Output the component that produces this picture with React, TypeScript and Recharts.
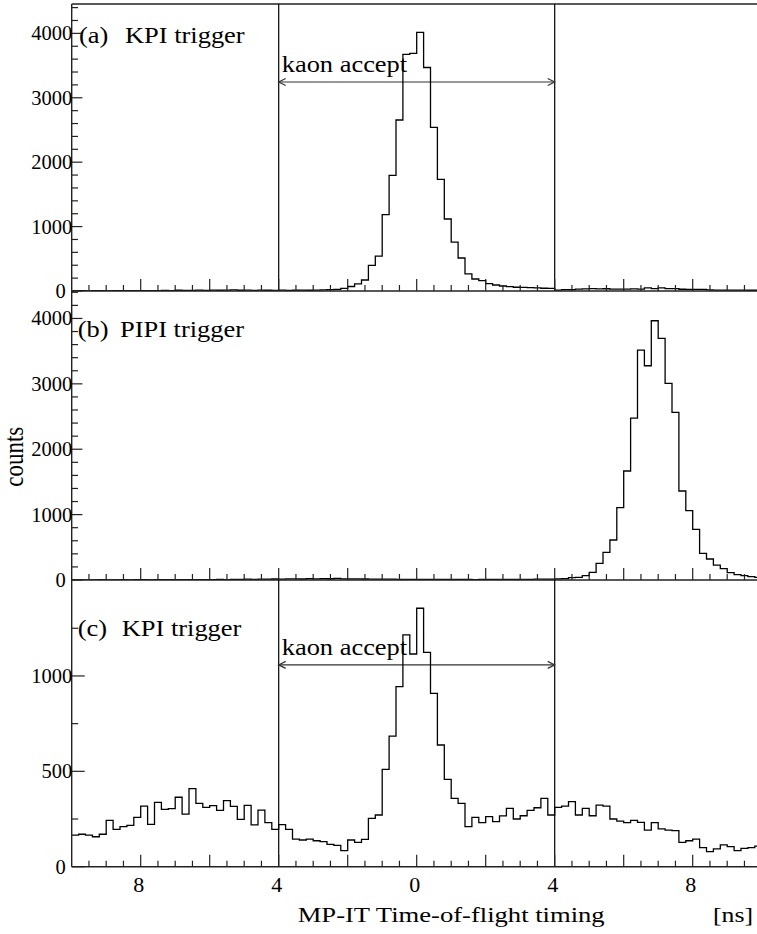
import React from 'react';
import { LineChart, Line, XAxis, YAxis, ReferenceLine } from 'recharts';

// Histogram binning: 100 bins of 0.2 ns from -10 ns
const BIN_START = -10;
const BIN_WIDTH = 0.2;

// (a) KPI trigger counts per bin
const kpiTriggerA = [
  3, 4, 3, 5, 4, 3, 5, 4, 6, 5,
  6, 5, 7, 8, 6, 12, 10, 9, 14, 11,
  15, 12, 13, 16, 12, 14, 11, 15, 12, 10,
  13, 11, 12, 14, 12, 15, 18, 22, 26, 40,
  70, 112, 171, 398, 540, 1185, 1796, 2655, 3675, 3690,
  4017, 3470, 2540, 1734, 1118, 758, 512, 266, 186, 160,
  114, 93, 78, 67, 58, 56, 52, 47, 43, 40,
  15, 20, 22, 30, 34, 36, 33, 35, 30, 28,
  30, 32, 30, 47, 36, 50, 38, 36, 27, 26,
  25, 24, 16, 15, 14, 15, 13, 14, 12, 12,
];

// (b) PIPI trigger counts per bin
const pipiTriggerB = [
  2, 3, 2, 3, 4, 3, 2, 4, 3, 5,
  4, 3, 5, 4, 6, 5, 4, 6, 5, 7,
  6, 8, 7, 9, 10, 12, 11, 14, 13, 15,
  12, 16, 18, 15, 20, 17, 22, 19, 24, 18,
  18, 16, 15, 14, 13, 12, 12, 11, 10, 10,
  10, 9, 9, 8, 8, 9, 8, 8, 7, 8,
  8, 9, 8, 9, 10, 10, 11, 12, 13, 14,
  16, 20, 36, 41, 66, 117, 255, 423, 612, 1106,
  1667, 2477, 3517, 3277, 3965, 3695, 3007, 2564, 1361, 1060,
  775, 408, 321, 229, 173, 112, 82, 66, 51, 41,
];

// (c) KPI trigger counts per bin
const kpiTriggerC = [
  166, 170, 166, 157, 170, 243, 196, 210, 217, 259,
  318, 222, 337, 301, 304, 364, 276, 409, 332, 311,
  320, 295, 346, 316, 248, 322, 219, 297, 231, 196,
  221, 196, 145, 140, 145, 136, 131, 117, 112, 84,
  140, 128, 143, 253, 271, 510, 685, 944, 1215, 1115,
  1355, 1124, 909, 638, 458, 358, 332, 210, 259, 231,
  262, 236, 266, 306, 250, 267, 295, 309, 358, 271,
  311, 318, 341, 271, 306, 267, 323, 318, 250, 239,
  231, 243, 232, 192, 231, 198, 192, 189, 128, 136,
  145, 100, 79, 93, 114, 105, 84, 96, 100, 108,
];

const xLabelTicks = [-8, -4, 0, 4, 8];
const xMinorTicks = Array.from({ length: 39 }, (_, i) => -9.5 + i * 0.5);
const yTicksAB = Array.from({ length: 23 }, (_, i) => i * 200);
const yTicksC = [0, 250, 500, 750, 1000, 1250];
const kaonWindow = [-4, 4];

const FONT = '"Liberation Serif", "Times New Roman", serif';
const AXIS_COLOR = '#222';

const CHART_W = 780;
const Y_AXIS_W = 60;
const PLOT_LEFT = 71.7;
const PLOT_RIGHT_MARGIN = CHART_W - 761.7;

function toSteps(values: number[]) {
  const pts = values.map((v, i) => ({ x: BIN_START + i * BIN_WIDTH, v }));
  pts.push({ x: BIN_START + values.length * BIN_WIDTH, v: values[values.length - 1] });
  return pts;
}

function SText(props: {
  x: number; y: number; size: number; sx?: number; anchor?: string; children: any;
}) {
  const { x, y, size, sx = 1, anchor = 'start', children } = props;
  return (
    <g transform={`translate(${x},${y})`}>
      <g transform={`scale(${sx},1)`}>
        <text x={0} y={0} fontSize={size} fontFamily={FONT} fill="#000" textAnchor={anchor as any}>
          {children}
        </text>
      </g>
    </g>
  );
}

const makeYTick = (major: number, majorLen: number, minorLen: number) => (props: any) => {
  const { x, y, payload } = props;
  const v = payload.value;
  const isMajor = v % major === 0;
  const len = isMajor ? majorLen : minorLen;
  return (
    <g>
      <line x1={x} y1={y} x2={x + len} y2={y} stroke={AXIS_COLOR} strokeWidth={1.2} />
      {isMajor && (
        <SText x={v === 0 ? x - 6 : x + 0.5} y={y + 7} size={20.5} sx={1} anchor="end">
          {v}
        </SText>
      )}
    </g>
  );
};

const makeXTick = (showLabels: boolean) => (props: any) => {
  const { x, y, payload } = props;
  const v = payload.value;
  const isMajor = Math.abs(v % 2) < 1e-6;
  const len = isMajor ? 12 : 6;
  const label = showLabels && xLabelTicks.includes(v);
  return (
    <g>
      <line x1={x} y1={y} x2={x} y2={y - len} stroke={AXIS_COLOR} strokeWidth={1.2} />
      {label && (
        <SText x={x - 2} y={y + 25} size={20} sx={1.1} anchor="middle">
          {Math.abs(v)}
        </SText>
      )}
    </g>
  );
};

const arrowShape = (props: any) => {
  const { x1, y1, x2, y2 } = props;
  const h = 7;
  const w = 3.5;
  return (
    <g>
      <line x1={x1} y1={y1} x2={x2} y2={y2} stroke="#333" strokeWidth={1.2} />
      <polyline points={`${x1 + h},${y1 - w} ${x1},${y1} ${x1 + h},${y1 + w}`} fill="none" stroke="#333" strokeWidth={1.2} />
      <polyline points={`${x2 - h},${y2 - w} ${x2},${y2} ${x2 - h},${y2 + w}`} fill="none" stroke="#333" strokeWidth={1.2} />
      <SText x={x1 + 3} y={y1 - 10.3} size={23} sx={1.15}>kaon accept</SText>
    </g>
  );
};

function Panel(props: {
  values: number[]; top: number; height: number; mTop: number; mBottom: number;
  yMax: number; yTicks: number[]; yMajor: number; yMajorLen: number; yMinorLen: number;
  showXLabels: boolean; arrowY?: number; showTopFrame?: boolean;
}) {
  const { values, top, height, mTop, mBottom, yMax, yTicks, yMajor, yMajorLen, yMinorLen, showXLabels, arrowY, showTopFrame } = props;
  const data = toSteps(values);
  const xAxisH = Math.min(mBottom, 30);
  return (
    <div style={{ position: 'absolute', left: 0, top }}>
      <LineChart
        width={CHART_W}
        height={height}
        data={data}
        margin={{ top: mTop, bottom: mBottom - xAxisH, left: PLOT_LEFT - Y_AXIS_W, right: PLOT_RIGHT_MARGIN }}
      >
        <XAxis
          type="number"
          dataKey="x"
          domain={[-10, 10]}
          allowDataOverflow
          ticks={xMinorTicks}
          interval={0}
          tickSize={0}
          tickMargin={0}
          height={xAxisH}
          axisLine={{ stroke: AXIS_COLOR, strokeWidth: 1.4 }}
          tick={makeXTick(showXLabels)}
        />
        <YAxis
          type="number"
          domain={[0, yMax]}
          allowDataOverflow
          ticks={yTicks}
          interval={0}
          width={Y_AXIS_W}
          tickSize={0}
          tickMargin={0}
          axisLine={{ stroke: AXIS_COLOR, strokeWidth: 1.4 }}
          tick={makeYTick(yMajor, yMajorLen, yMinorLen)}
        />
        {showTopFrame && <ReferenceLine y={yMax} stroke={AXIS_COLOR} strokeWidth={1.4} ifOverflow="visible" />}
        {arrowY !== undefined &&
          kaonWindow.map((k) => (
            <ReferenceLine key={k} x={k} stroke="#000" strokeWidth={1.2} ifOverflow="visible" />
          ))}
        {arrowY !== undefined && (
          <ReferenceLine
            segment={[{ x: kaonWindow[0], y: arrowY }, { x: kaonWindow[1], y: arrowY }]}
            ifOverflow="visible"
            shape={arrowShape}
          />
        )}
        <Line
          type="stepAfter"
          dataKey="v"
          stroke="#000"
          strokeWidth={1.3}
          dot={false}
          activeDot={false}
          isAnimationActive={false}
        />
      </LineChart>
    </div>
  );
}

export default function App() {
  return (
    <div style={{ position: 'absolute', left: 0, top: 0, width: 757, height: 934, overflow: 'hidden', background: '#fff' }}>
      <Panel values={kpiTriggerA} top={0} height={312} mTop={4} mBottom={21} yMax={4456}
        yTicks={yTicksAB} yMajor={1000} yMajorLen={10.7} yMinorLen={6.3} showXLabels={false} arrowY={3245} showTopFrame />
      <Panel values={pipiTriggerB} top={280} height={318} mTop={11} mBottom={18} yMax={4420}
        yTicks={yTicksAB} yMajor={1000} yMajorLen={10.7} yMinorLen={6.3} showXLabels={false} />
      <Panel values={kpiTriggerC} top={570} height={364} mTop={10} mBottom={67.3} yMax={1503}
        yTicks={yTicksC} yMajor={500} yMajorLen={13} yMinorLen={6.5} showXLabels arrowY={1058} />
      <svg width={757} height={934} style={{ position: 'absolute', left: 0, top: 0, pointerEvents: 'none' }}>
        <SText x={79} y={42.5} size={23} sx={1.15}>(a)</SText>
        <SText x={125} y={42.5} size={23} sx={1.15}>KPI trigger</SText>
        <SText x={77.7} y={336.7} size={23} sx={1.15}>(b)</SText>
        <SText x={120} y={336.7} size={23} sx={1.15}>PIPI trigger</SText>
        <SText x={77.7} y={635.7} size={23} sx={1.15}>(c)</SText>
        <SText x={121.7} y={635.7} size={23} sx={1.15}>KPI trigger</SText>
        <g transform="translate(23.3,456.7)">
          <g transform="scale(1.15,1)">
            <g transform="rotate(-90)">
              <text x={0} y={0} fontSize={23} fontFamily={FONT} fill="#000" textAnchor="middle">counts</text>
            </g>
          </g>
        </g>
        <SText x={297.7} y={921.5} size={22} sx={1.21}>MP-IT Time-of-flight timing</SText>
        <SText x={713} y={921.5} size={22} sx={1.17}>[ns]</SText>
      </svg>
    </div>
  );
}
